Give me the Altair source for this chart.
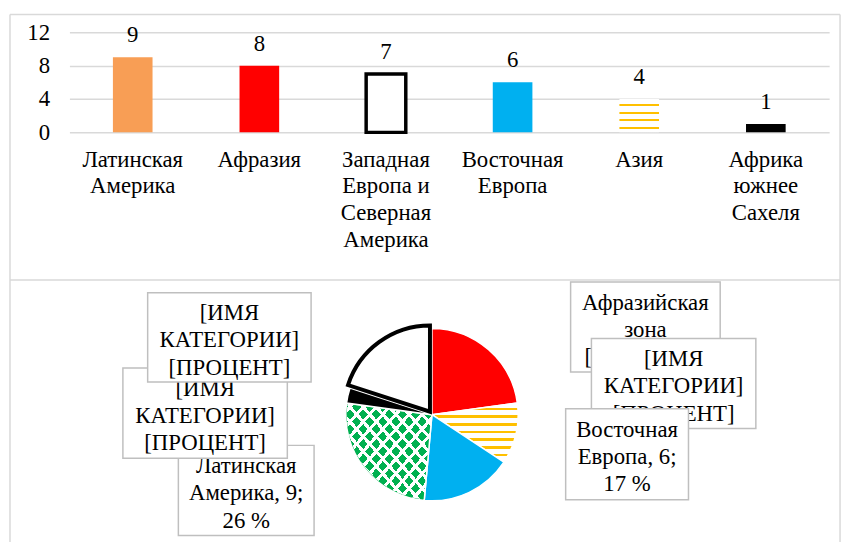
import altair as alt
import pandas as pd

# ---------------- data ----------------
bar_categories = [
    "Латинская\nАмерика",
    "Афразия",
    "Западная\nЕвропа и\nСеверная\nАмерика",
    "Восточная\nЕвропа",
    "Азия",
    "Африка\nюжнее\nСахеля",
]
bar_values = [9, 8, 7, 6, 4, 1]
y_ticks = [0, 4, 8, 12]

pie_categories = [
    "Афразия",
    "Азия",
    "Восточная Европа",
    "Латинская Америка",
    "Африка южнее Сахеля",
    "Западная Европа и Северная Америка",
]
pie_values = [8, 4, 6, 9, 1, 7]

placeholder = "[ИМЯ\nКАТЕГОРИИ]\n[ПРОЦЕНТ]"
total = sum(pie_values)
lat_pct = round(100 * pie_values[3] / total)
east_pct = round(100 * pie_values[2] / total)
label_texts = [
    f"Латинская\nАмерика, {pie_values[3]};\n{lat_pct} %",
    placeholder,
    placeholder,
    "Афразийская\nзона\n[ПРОЦЕНТ]",
    placeholder,
    f"Восточная\nЕвропа, {pie_values[2]};\n{east_pct} %",
]

# ---------------- styles / layout ----------------
FONT = "Liberation Serif"
FS = 23
GRID = "#D9D9D9"
BOXC = "#BFBFBF"
LH = 27.5


def stripes(color, bg, centers, half, x1=0, y1=0, x2=0, y2=1):
    stops = [{"offset": 0, "color": bg}]
    for c in centers:
        stops += [
            {"offset": c - half, "color": bg},
            {"offset": c - half, "color": color},
            {"offset": c + half, "color": color},
            {"offset": c + half, "color": bg},
        ]
    stops.append({"offset": 1, "color": bg})
    return {"gradient": "linear", "x1": x1, "y1": y1, "x2": x2, "y2": y2, "stops": stops}


asia_bar = stripes("#FFC000", "#FFFFFF", [0.175, 0.408, 0.635, 0.86], 0.032)
asia_pie = stripes("#FFC000", "#FFFFFF", [0.10, 0.23, 0.36, 0.49, 0.62, 0.75, 0.88], 0.022)
diag_centers = [(k + 0.5) / 13 for k in range(13)]
diag_a = stripes("#FFFFFF", "rgba(255,255,255,0)", diag_centers, 0.012, 0, 0, 1, 1)
diag_b = stripes("#FFFFFF", "rgba(255,255,255,0)", diag_centers, 0.012, 1, 0, 0, 1)

bar_fills = ["#F89E55", "#FF0000", "#FFFFFF", "#00B0F0", asia_bar, "#000000"]
pie_fills = ["#FF0000", asia_pie, "#00B0F0", "#00B050", "#000000", "#FFFFFF"]

# ---------------- tables ----------------
bars = pd.DataFrame({"cat": bar_categories, "value": bar_values, "idx": list(range(len(bar_values)))})

ends = pd.Series(pie_values).cumsum()
pie = pd.DataFrame({
    "cat": pie_categories,
    "value": pie_values,
    "end": ends,
    "start": ends - pd.Series(pie_values),
    "idx": list(range(len(pie_values))),
})

# ---------------- bar chart ----------------
x_enc = alt.X(
    "cat:N",
    sort=None,
    scale=alt.Scale(paddingInner=0.687, paddingOuter=0.3435),
    axis=alt.Axis(
        title=None, labelAngle=0, domain=False, ticks=False,
        labelExpr="split(datum.label, '\\n')",
        labelFont=FONT, labelFontSize=FS, labelColor="#000000",
        labelPadding=16, labelLineHeight=27, labelBaseline="top", labelLimit=0,
    ),
)
y_enc = alt.Y(
    "value:Q",
    scale=alt.Scale(domain=[0, 12], nice=False),
    axis=alt.Axis(
        title=None, values=y_ticks, domain=False, ticks=False,
        grid=True, gridColor=GRID, gridWidth=1.5,
        labelFont=FONT, labelFontSize=FS, labelColor="#000000", labelPadding=20,
    ),
)

bar_layer = alt.Chart(bars).mark_bar().encode(
    x=x_enc,
    y=y_enc,
    fill=alt.FillValue(
        "#000000",
        condition=[{"test": f"datum.idx === {i}", "value": f} for i, f in enumerate(bar_fills)],
    ),
    stroke=alt.StrokeValue("transparent", condition={"test": "datum.idx === 2", "value": "#000000"}),
    strokeWidth=alt.StrokeWidthValue(0, condition={"test": "datum.idx === 2", "value": 3.5}),
)

bar_text = alt.Chart(bars).mark_text(
    font=FONT, fontSize=FS, color="#000000", baseline="alphabetic", dy=-15
).encode(x=x_enc, y=y_enc, text=alt.Text("value:Q"))

# ---------------- pie ----------------
CX, CY, R = 366, 386, 87
theta = alt.Theta("start:Q", scale=alt.Scale(domain=[0, total]))
theta2 = alt.Theta2("end:Q")

pie_main = alt.Chart(pie).transform_filter("datum.idx !== 5").mark_arc(
    outerRadius=R, stroke="#FFFFFF", strokeWidth=1.5
).encode(
    theta=theta, theta2=theta2,
    x=alt.value(CX), y=alt.value(CY),
    fill=alt.FillValue(
        "#000000",
        condition=[{"test": f"datum.idx === {i}", "value": f} for i, f in enumerate(pie_fills)],
    ),
)

green_a = alt.Chart(pie).transform_filter("datum.idx === 3").mark_arc(
    outerRadius=R - 1, fill=diag_a
).encode(theta=theta, theta2=theta2, x=alt.value(CX), y=alt.value(CY))
green_b = alt.Chart(pie).transform_filter("datum.idx === 3").mark_arc(
    outerRadius=R - 1, fill=diag_b
).encode(theta=theta, theta2=theta2, x=alt.value(CX), y=alt.value(CY))

pie_explode = alt.Chart(pie).transform_filter("datum.idx === 5").mark_arc(
    outerRadius=R, fill="#FFFFFF", stroke="#000000", strokeWidth=4, strokeJoin="miter"
).encode(theta=theta, theta2=theta2, x=alt.value(CX - 2), y=alt.value(CY - 3))

# ---------------- label boxes (drawn in stacking order) ----------------
box_geo = [
    (110, 247, 417, 508),
    (54, 220, 339, 430),
    (79, 244, 263, 353),
    (506, 657, 252, 343),
    (527, 693, 309, 400),
    (501, 625, 380, 472),
]
box_layers = []
for (x1, x2, y1, y2), txt in zip(box_geo, label_texts):
    one = alt.Chart(pd.DataFrame({"t": [txt]}))
    n_lines = txt.count("\n") + 1
    box_layers.append(
        one.mark_rect(fill="#FFFFFF", stroke=BOXC, strokeWidth=1.5).encode(
            x=alt.value(x1), x2=alt.value(x2), y=alt.value(y1), y2=alt.value(y2)
        )
    )
    box_layers.append(
        one.mark_text(
            font=FONT, fontSize=FS, color="#000000", lineBreak="\n", lineHeight=LH,
            align="center", baseline="middle",
        ).encode(
            x=alt.value((x1 + x2) / 2),
            y=alt.value((y1 + y2) / 2 - LH * (n_lines - 1) / 2 + 3),
            text="t:N",
        )
    )

# ---------------- frame ----------------
dummy = pd.DataFrame({"k": [0]})


def rule(x1, x2, y1, y2):
    return alt.Chart(dummy).mark_rule(color=GRID, strokeWidth=1.5).encode(
        x=alt.value(x1), x2=alt.value(x2), y=alt.value(y1), y2=alt.value(y2)
    )


frame = [
    rule(-60, 778, -18, -18),
    rule(-60, -60, -18, 520),
    rule(778, 778, -18, 520),
    rule(-60, 778, 250, 250),
]

chart = alt.layer(
    *frame, bar_layer, bar_text, pie_main, green_a, green_b, pie_explode, *box_layers
).properties(
    width=767, height=101,
    autosize=alt.AutoSizeParams(type="none"),
    padding={"left": 62, "top": 22, "right": 15, "bottom": 411},
).configure_view(stroke=None)

chart.save("out.html", embed_options={"renderer": "svg", "actions": False})
